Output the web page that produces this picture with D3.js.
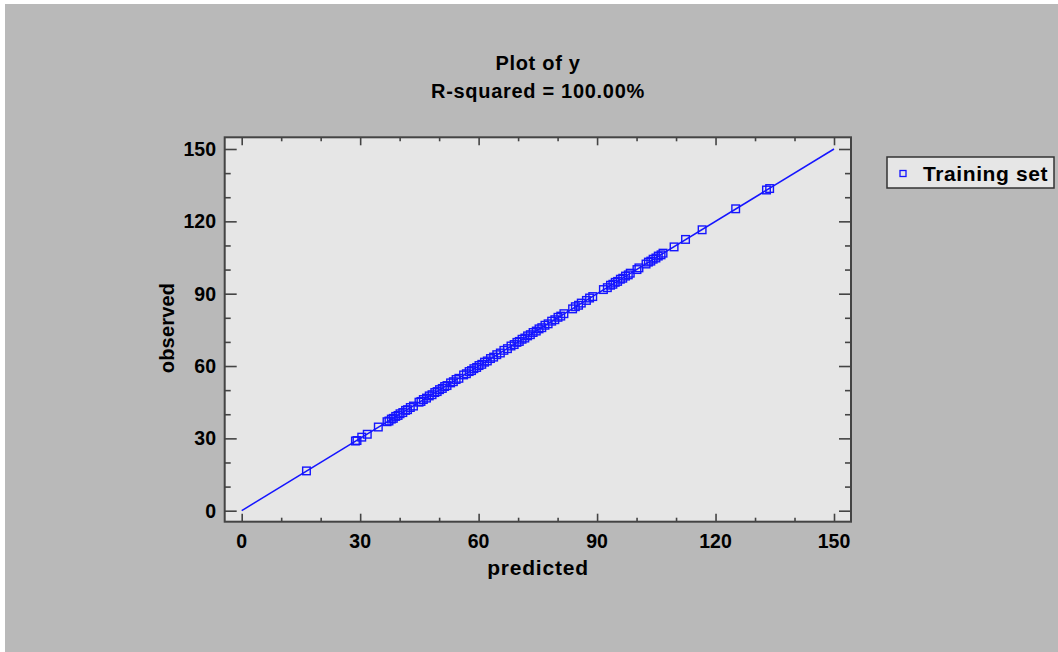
<!DOCTYPE html>
<html>
<head>
<meta charset="utf-8">
<script src="https://cdn.jsdelivr.net/npm/d3@7"></script>
<style>
  body { margin: 0; background: white; }
  svg { display: block; }
  text { font-family: "Liberation Sans", Arial, sans-serif; font-weight: bold; fill: #000; }
</style>
</head>
<body>
<div id="vis"></div>
<script>
// data
let predicted = [16.4, 28.8, 29.2, 30.4, 31.8, 34.6, 36.8, 37.3, 37.9, 38.4, 39.0, 39.6, 40.1, 40.8,
  41.5, 42.0, 42.7, 43.5, 44.9, 45.4, 46.0, 46.8, 47.5, 48.2, 48.9, 49.5, 50.1, 50.8, 51.4, 52.0,
  52.9, 53.6, 54.3, 55.0, 56.2, 56.9, 57.6, 58.2, 58.8, 59.5, 60.1, 60.8, 61.5, 62.2, 63.0, 63.8,
  64.6, 65.5, 66.4, 67.3, 68.2, 69.0, 69.7, 70.3, 71.0, 71.7, 72.4, 73.1, 73.8, 74.6, 75.3, 76.0,
  76.8, 77.6, 78.5, 79.3, 80.1, 80.8, 81.6, 83.8, 84.5, 85.3, 86.0, 87.3, 88.1, 88.9, 91.6, 92.6,
  93.4, 94.0, 94.6, 95.2, 95.9, 96.5, 97.2, 97.9, 98.4, 100.1, 100.6, 102.4, 103.0, 103.6, 104.2,
  104.9, 105.5, 106.2, 106.7, 109.5, 112.4, 116.6, 125.1, 132.9, 133.7];
let observed = [16.5, 28.9, 29.1, 30.5, 31.7, 34.7, 36.9, 37.2, 38.0, 38.3, 39.1, 39.5, 40.2, 40.7,
  41.6, 41.9, 42.8, 43.4, 45.0, 45.3, 46.1, 46.7, 47.6, 48.1, 49.0, 49.4, 50.2, 50.7, 51.5, 51.9,
  53.0, 53.5, 54.4, 54.9, 56.3, 56.8, 57.7, 58.1, 58.9, 59.4, 60.2, 60.7, 61.6, 62.1, 63.1, 63.7,
  64.7, 65.4, 66.5, 67.2, 68.3, 68.9, 69.8, 70.2, 71.1, 71.6, 72.5, 73.0, 73.9, 74.5, 75.4, 75.9,
  76.9, 77.5, 78.6, 79.2, 80.2, 80.7, 81.7, 83.7, 84.6, 85.2, 86.1, 87.2, 88.2, 88.8, 91.7, 92.5,
  93.5, 93.9, 94.7, 95.1, 96.0, 96.4, 97.3, 97.8, 98.5, 100.0, 100.7, 102.3, 103.1, 103.5, 104.3,
  104.8, 105.6, 106.1, 106.8, 109.4, 112.5, 116.5, 125.2, 133.0, 133.6];
let fitX = [0, 150];
let fitY = [0, 150];
let majorTicks = [0, 30, 60, 90, 120, 150];
let minorTicks = [10, 20, 40, 50, 70, 80, 100, 110, 130, 140];
let titleLines = ["Plot of y", "R-squared = 100.00%"];
let xLabel = "predicted";
let yLabel = "observed";
let legendLabel = "Training set";

let W = 1058, H = 652;
let frame = { left: 224.7, right: 851, top: 137.3, bottom: 521.7 };
let blue = "#1515ff";

let svg = d3.select("#vis").append("svg")
  .attr("width", W)
  .attr("height", H);

// outer gray panel
svg.append("rect")
  .attr("x", 5).attr("y", 4)
  .attr("width", W - 5).attr("height", H - 4)
  .attr("fill", "#b9b9b9");

// plot background
svg.append("rect")
  .attr("x", frame.left).attr("y", frame.top)
  .attr("width", frame.right - frame.left)
  .attr("height", frame.bottom - frame.top)
  .attr("fill", "#e6e6e6");

let x = d3.scaleLinear().domain([0, 150]).range([241.7, 834]);
let y = d3.scaleLinear().domain([0, 150]).range([510.7, 149]);

// axes with inward ticks
function ticks(g, axis, values, size) {
  g.call(axis.tickValues(values).tickSize(size).tickFormat(""))
    .call(s => s.select(".domain").remove())
    .selectAll("line").attr("stroke", "#444").attr("stroke-width", 1.6);
}
let axes = svg.append("g");
ticks(axes.append("g").attr("transform", `translate(0,${frame.bottom})`), d3.axisTop(x), majorTicks, 8);
ticks(axes.append("g").attr("transform", `translate(0,${frame.bottom})`), d3.axisTop(x), minorTicks, 4);
ticks(axes.append("g").attr("transform", `translate(0,${frame.top})`), d3.axisBottom(x), majorTicks, 8);
ticks(axes.append("g").attr("transform", `translate(0,${frame.top})`), d3.axisBottom(x), minorTicks, 4);
ticks(axes.append("g").attr("transform", `translate(${frame.left},0)`), d3.axisRight(y), majorTicks, 12);
ticks(axes.append("g").attr("transform", `translate(${frame.left},0)`), d3.axisRight(y), minorTicks, 6);
ticks(axes.append("g").attr("transform", `translate(${frame.right},0)`), d3.axisLeft(y), majorTicks, 12);
ticks(axes.append("g").attr("transform", `translate(${frame.right},0)`), d3.axisLeft(y), minorTicks, 6);

// tick labels
svg.append("g").selectAll("text")
  .data(majorTicks)
  .join("text")
  .attr("x", d => x(d))
  .attr("y", 547.5)
  .attr("text-anchor", "middle")
  .attr("font-size", 19.5)
  .text(d => d);
svg.append("g").selectAll("text")
  .data(majorTicks)
  .join("text")
  .attr("x", 216)
  .attr("y", d => y(d) + 7)
  .attr("text-anchor", "end")
  .attr("font-size", 19.5)
  .text(d => d);

// frame
svg.append("rect")
  .attr("x", frame.left).attr("y", frame.top)
  .attr("width", frame.right - frame.left)
  .attr("height", frame.bottom - frame.top)
  .attr("fill", "none")
  .attr("stroke", "#444")
  .attr("stroke-width", 2);

// fitted line
svg.append("path")
  .datum(d3.zip(fitX, fitY))
  .attr("d", d3.line().x(d => x(d[0])).y(d => y(d[1])))
  .attr("fill", "none")
  .attr("stroke", blue)
  .attr("stroke-width", 1.5);

// points
svg.append("g").selectAll("rect")
  .data(d3.zip(predicted, observed))
  .join("rect")
  .attr("x", d => x(d[0]) - 3.8)
  .attr("y", d => y(d[1]) - 3.8)
  .attr("width", 7.6)
  .attr("height", 7.6)
  .attr("fill", "none")
  .attr("stroke", blue)
  .attr("stroke-width", 1.4);

// titles
svg.append("g").selectAll("text")
  .data(titleLines)
  .join("text")
  .attr("x", 538)
  .attr("y", (d, i) => 69.5 + i * 28)
  .attr("text-anchor", "middle")
  .attr("font-size", 20)
  .attr("letter-spacing", 0.7)
  .text(d => d);

svg.append("text")
  .attr("x", 538).attr("y", 575)
  .attr("text-anchor", "middle")
  .attr("font-size", 21)
  .attr("letter-spacing", 0.8)
  .text(xLabel);
svg.append("text")
  .attr("transform", "translate(173.5,328) rotate(-90)")
  .attr("text-anchor", "middle")
  .attr("font-size", 20)
  .attr("letter-spacing", 0.2)
  .text(yLabel);

// legend
let legend = svg.append("g");
legend.append("rect")
  .attr("x", 887).attr("y", 157)
  .attr("width", 167).attr("height", 31)
  .attr("fill", "#e6e6e6")
  .attr("stroke", "#333")
  .attr("stroke-width", 1.5);
legend.append("rect")
  .attr("x", 900).attr("y", 170.5)
  .attr("width", 6).attr("height", 6)
  .attr("fill", "none")
  .attr("stroke", blue)
  .attr("stroke-width", 1.3);
legend.append("text")
  .attr("x", 923).attr("y", 181)
  .attr("font-size", 21)
  .attr("letter-spacing", 0.6)
  .text(legendLabel);
</script>
</body>
</html>
